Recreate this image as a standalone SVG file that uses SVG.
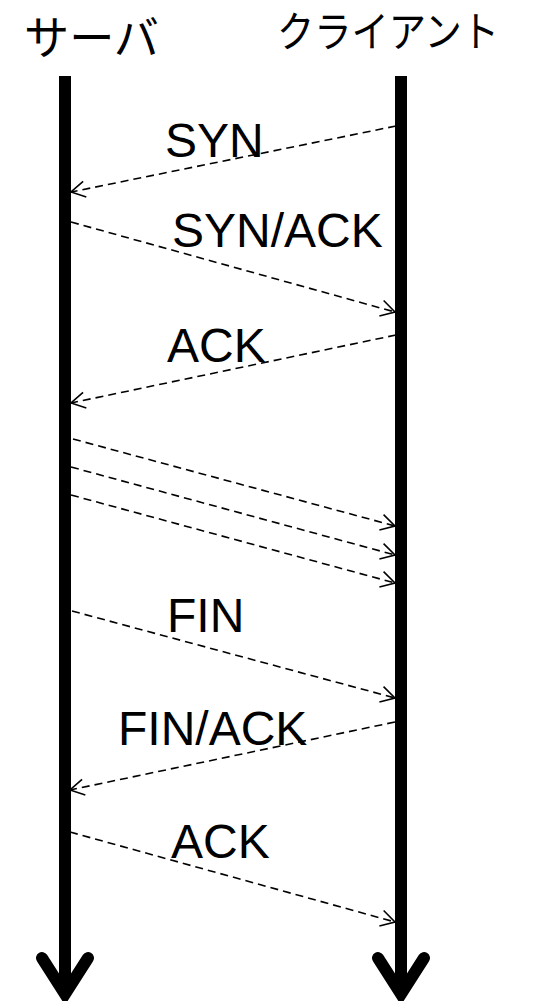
<svg xmlns="http://www.w3.org/2000/svg" width="533" height="1001" viewBox="0 0 533 1001">
  <style>
    .lifeline { stroke: #000; stroke-width: 12; fill: none; }
    .lifehead { stroke: #000; stroke-width: 12; fill: none; stroke-linecap: round; stroke-linejoin: miter; }
    .msg { stroke: #000; stroke-width: 1.6; fill: none; stroke-dasharray: 8 5; marker-end: url(#open); }
    .label { font-family: "Liberation Sans", Arial, sans-serif; font-size: 48px; fill: #000; }
    .title { font-family: "Noto Sans CJK JP", "Noto Sans", sans-serif; font-size: 46px; fill: #000; }
    .title-narrow { font-size: 42px; }
  </style>
  <defs>
    <marker id="open" markerUnits="userSpaceOnUse" viewBox="-16 -10 20 20" markerWidth="20" markerHeight="20" refX="0" refY="0" orient="auto">
      <path d="M-14,-8 L0,0 L-14,8" fill="none" stroke="#000" stroke-width="1.6" stroke-dasharray="none"/>
    </marker>
  </defs>

  <!-- participants -->
  <g id="server">
    <text class="title" x="24" y="54" textLength="135" lengthAdjust="spacingAndGlyphs">サーバ</text>
    <line class="lifeline" x1="65" y1="76" x2="65" y2="992"/>
    <polyline class="lifehead" points="42,958 65,994 88,958"/>
  </g>
  <g id="client">
    <text class="title title-narrow" x="277" y="47" textLength="222" lengthAdjust="spacingAndGlyphs">クライアント</text>
    <line class="lifeline" x1="401" y1="76" x2="401" y2="992"/>
    <polyline class="lifehead" points="378,958 401,994 424,958"/>
  </g>

  <!-- messages -->
  <g id="connectors">
    <line class="msg" x1="396" y1="126" x2="71" y2="192"/>
    <line class="msg" x1="71" y1="222" x2="395" y2="312"/>
    <line class="msg" x1="396" y1="335" x2="71" y2="403"/>
    <line class="msg" x1="73" y1="439" x2="395" y2="526"/>
    <line class="msg" x1="71" y1="467" x2="395" y2="555"/>
    <line class="msg" x1="71" y1="495" x2="395" y2="583"/>
    <line class="msg" x1="72" y1="611" x2="395" y2="698"/>
    <line class="msg" x1="395" y1="722" x2="70" y2="790"/>
    <line class="msg" x1="70" y1="832" x2="395" y2="922"/>
  </g>

  <!-- message labels -->
  <g id="labels">
    <text class="label" x="165" y="157">SYN</text>
    <text class="label" x="172" y="247">SYN/ACK</text>
    <text class="label" x="167" y="362">ACK</text>
    <text class="label" x="167" y="632">FIN</text>
    <text class="label" x="118" y="745">FIN/ACK</text>
    <text class="label" x="171" y="858">ACK</text>
  </g>
</svg>
